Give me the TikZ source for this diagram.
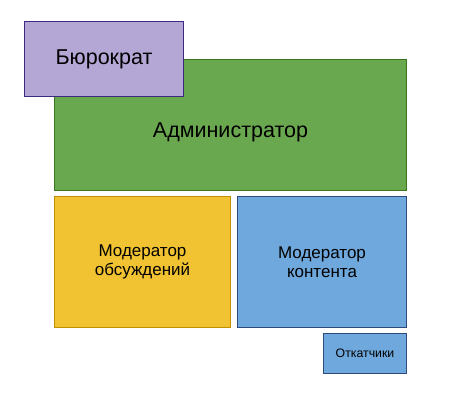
\documentclass[tikz,border=0pt]{standalone}
\usepackage{fontspec}
\setmainfont{Liberation Sans}
\usepackage{tikz}

\definecolor{burfill}{HTML}{B4A7D6}
\definecolor{burline}{HTML}{3C2A80}
\definecolor{admfill}{HTML}{6AA84F}
\definecolor{admline}{HTML}{38761D}
\definecolor{obsfill}{HTML}{F1C232}
\definecolor{obsline}{HTML}{BF9000}
\definecolor{konfill}{HTML}{6FA8DC}
\definecolor{konline}{HTML}{2C4A7C}

\begin{document}
\begin{tikzpicture}[x=1pt,y=-1pt,
    role/.style={draw,line width=1pt,anchor=north west,inner sep=0pt,align=center}]

    \useasboundingbox (0,0) rectangle (460,406);

    \node[role,fill=admfill,draw=admline,minimum width=352pt,minimum height=131pt,
        label={[font=\fontsize{21.5}{25}\selectfont,yshift=-7pt]center:Администратор}] (admin) at (54,59) {};

    \node[role,fill=burfill,draw=burline,minimum width=159pt,minimum height=75pt,
        font=\fontsize{21.5}{25}\selectfont] (burokrat) at (24,21) {Бюрократ};

    \node[role,fill=obsfill,draw=obsline,minimum width=176pt,minimum height=131pt,
        font=\fontsize{17}{19.5}\selectfont] (modobs) at (54,196) {Модератор\\обсуждений};

    \node[role,fill=konfill,draw=konline,minimum width=169pt,minimum height=131pt,
        font=\fontsize{17}{19.5}\selectfont] (modkon) at (237,196) {Модератор\\контента};

    \node[role,fill=konfill,draw=konline,minimum width=83pt,minimum height=40pt,
        font=\fontsize{12.3}{14}\selectfont] (otkat) at (323,333) {Откатчики};

\end{tikzpicture}
\end{document}
